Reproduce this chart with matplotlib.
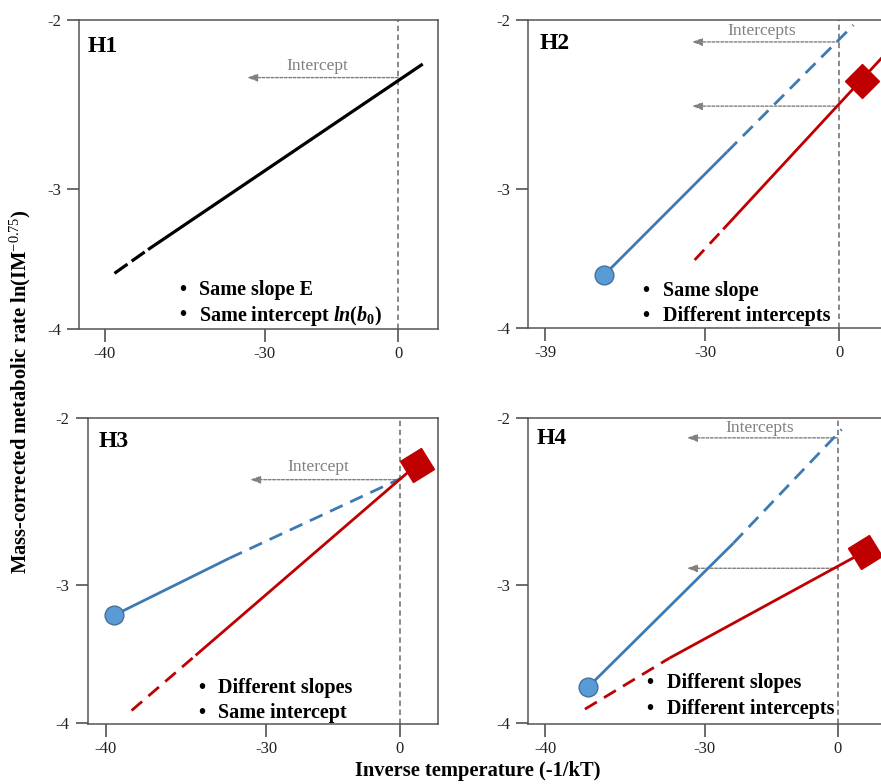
import numpy as np
import matplotlib.pyplot as plt
from matplotlib.markers import MarkerStyle
from matplotlib.transforms import Affine2D

plt.rcParams['font.family'] = ['Liberation Serif', 'DejaVu Serif']
plt.rcParams['mathtext.fontset'] = 'custom'
plt.rcParams['mathtext.rm'] = 'Liberation Serif'
plt.rcParams['mathtext.it'] = 'Liberation Serif:italic:bold'
plt.rcParams['mathtext.bf'] = 'Liberation Serif:bold'

# ---- data ----
y_ticks = [-4, -3, -2]
h1_x_ticks = [-40, -30, 0]
h2_x_ticks = [-39, -30, 0]
h3_x_ticks = [-40, -30, 0]
h4_x_ticks = [-40, -30, 0]

h1_line_x = [-39.4, -37.3, 5.5]
h1_line_y = [-3.60, -3.43, -2.26]
h1_intercepts = [-2.34]

h2_blue_x = [-35.7, -25.1, 3.2]
h2_blue_y = [-3.62, -2.78, -2.03]
h2_red_x = [-30.6, -26.0, 12.5]
h2_red_y = [-3.51, -3.29, -2.14]
h2_red_point = [5.1, -2.36]
h2_intercepts = [-2.13, -2.51]

h3_blue_x = [-39.5, -32.3, 0.4]
h3_blue_y = [-3.22, -2.84, -2.36]
h3_red_x = [-38.4, -34.4, 3.8]
h3_red_y = [-3.91, -3.51, -2.28]
h3_intercepts = [-2.37]

h4_blue_x = [-37.3, -23.5, 0.9]
h4_blue_y = [-3.74, -2.75, -2.07]
h4_red_x = [-37.5, -32.2, 6.1]
h4_red_y = [-3.90, -3.53, -2.80]
h4_intercepts = [-2.12, -2.90]

arrow_tips = [-31.1, -30.75, -31.0, -31.1]

h1_notes = ['Same slope E', r'Same intercept $ln\mathbf{(}b_{\mathbf{0}}\mathbf{)}$']
h2_notes = ['Same slope', 'Different intercepts']
h3_notes = ['Different slopes', 'Same intercept']
h4_notes = ['Different slopes', 'Different intercepts']

BLUE = '#3d7ab3'
BLUE_FILL = '#5b9bd5'
BLUE_EDGE = '#41719c'
RED = '#c00000'
GRAY = '#808080'
DASH = (0, (5, 3))


def piecewise(vals, gaps):
    # broken axis: equal tick spacing is not equal value spacing
    vals = np.asarray(vals, float)
    pos = np.concatenate([[0], np.cumsum(gaps)])
    s_lo = (pos[1] - pos[0]) / (vals[1] - vals[0])
    s_hi = (pos[-1] - pos[-2]) / (vals[-1] - vals[-2])

    def fwd(v):
        v = np.asarray(v, float)
        p = np.interp(v, vals, pos)
        p = np.where(v < vals[0], pos[0] + (v - vals[0]) * s_lo, p)
        return np.where(v > vals[-1], pos[-1] + (v - vals[-1]) * s_hi, p)

    def inv(p):
        p = np.asarray(p, float)
        v = np.interp(p, pos, vals)
        v = np.where(p < pos[0], vals[0] + (p - pos[0]) / s_lo, v)
        return np.where(p > pos[-1], vals[-1] + (p - pos[-1]) / s_hi, v)

    return fwd, inv


def series(ax, xs, ys, color, lw, dashed_first, dash=DASH):
    styles = [dash, '-'] if dashed_first else ['-', dash]
    for i in range(2):
        ax.plot(xs[i:i + 2], ys[i:i + 2], color=color, lw=lw, ls=styles[i],
                solid_capstyle='butt', dash_capstyle='butt', zorder=3)


def setup(rect, xticks, xlim, ylim):
    ax = fig.add_axes(rect)
    ax.set_xscale('function', functions=piecewise(xticks, [1, 0.835]))
    ax.set_yscale('function', functions=piecewise(y_ticks, [0.825, 1]))
    ax.set_xlim(*xlim)
    ax.set_ylim(*ylim)
    ax.set_xticks(xticks, [str(t) for t in xticks])
    ax.set_yticks(y_ticks, [str(t) for t in y_ticks])
    ax.tick_params(direction='out', length=9, width=1.1, color='#444444',
                   labelsize=12, labelcolor='#222222')
    ax.tick_params(axis='x', pad=3)
    ax.tick_params(axis='y', pad=4)
    for s in ax.spines.values():
        s.set_color('#555555')
        s.set_linewidth(1.1)
    ax.axvline(0, color=GRAY, lw=1.3, ls=(0, (3, 2)), zorder=2)
    return ax


def intercepts(ax, ys, tip, label, pos):
    for y in ys:
        ax.annotate('', xy=(tip, y), xytext=(0, y),
                    arrowprops=dict(arrowstyle='-|>,head_length=0.6,head_width=0.22',
                                    color=GRAY, lw=1.0, ls=(0, (2, 1.2)),
                                    shrinkA=0, shrinkB=0), zorder=2)
    ax.text(pos[0], pos[1], label, transform=ax.transAxes, ha='center',
            va='center', fontsize=12.5, color=GRAY)


def notes(ax, lines, bx, tx, ys):
    for line, y in zip(lines, ys):
        ax.text(bx, y, '\u2022', transform=ax.transAxes, ha='center',
                va='center_baseline', fontsize=14.5, fontweight='bold')
        ax.text(tx, y, line, transform=ax.transAxes, ha='left',
                va='center_baseline', fontsize=14.5, fontweight='bold')


def tag(ax, name, pos):
    ax.text(pos[0], pos[1], name, transform=ax.transAxes, ha='left',
            va='center', fontsize=17, fontweight='bold')


def red_marker(ax, x, y, angle):
    m = MarkerStyle('s', transform=Affine2D().rotate_deg(angle))
    ax.plot([x], [y], ls='none', marker=m, ms=17.5, color=RED, mec=RED, zorder=5)


def blue_marker(ax, x, y):
    ax.plot([x], [y], ls='none', marker='o', ms=13.5, mfc=BLUE_FILL,
            mec=BLUE_EDGE, mew=1, zorder=5)


fig = plt.figure(figsize=(8.81, 7.84), dpi=100)

# H1
ax = setup([0.0900, 0.5800, 0.4075, 0.3945], h1_x_ticks, (-41.6, 9.0), (-4.0, -2.0))
series(ax, h1_line_x, h1_line_y, 'black', 2.3, True, dash=(0, (5, 1.6)))
intercepts(ax, h1_intercepts, arrow_tips[0], 'Intercept', (0.662, 0.852))
notes(ax, h1_notes, 0.289, 0.333, [0.1335, 0.0527])
tag(ax, 'H1', (0.022, 0.913))

# H2
ax = setup([0.5997, 0.5813, 0.4075, 0.3932], h2_x_ticks, (-39.94, 10.8), (-4.0, -2.0))
series(ax, h2_blue_x, h2_blue_y, BLUE, 2.0, False)
series(ax, h2_red_x, h2_red_y, RED, 2.0, True)
blue_marker(ax, h2_blue_x[0], h2_blue_y[0])
red_marker(ax, h2_red_point[0], h2_red_point[1], 45)
intercepts(ax, h2_intercepts, arrow_tips[1], 'Intercepts', (0.650, 0.965))
notes(ax, h2_notes, 0.327, 0.374, [0.130, 0.0486])
tag(ax, 'H2', (0.0326, 0.925))

# H3
ax = setup([0.0995, 0.0761, 0.3980, 0.3910], h3_x_ticks, (-41.14, 8.6), (-4.01, -2.0))
series(ax, h3_blue_x, h3_blue_y, BLUE, 2.0, False)
series(ax, h3_red_x, h3_red_y, RED, 2.0, True)
blue_marker(ax, h3_blue_x[0], h3_blue_y[0])
red_marker(ax, h3_red_x[-1], h3_red_y[-1], 30)
intercepts(ax, h3_intercepts, arrow_tips[2], 'Intercept', (0.657, 0.838))
notes(ax, h3_notes, 0.325, 0.3725, [0.128, 0.0466])
tag(ax, 'H3', (0.030, 0.922))

# H4
ax = setup([0.5997, 0.0761, 0.4075, 0.3910], h4_x_ticks, (-41.05, 11.2), (-4.01, -2.0))
series(ax, h4_blue_x, h4_blue_y, BLUE, 2.0, False)
series(ax, h4_red_x, h4_red_y, RED, 2.0, True)
blue_marker(ax, h4_blue_x[0], h4_blue_y[0])
red_marker(ax, h4_red_x[-1], h4_red_y[-1], 33)
intercepts(ax, h4_intercepts, arrow_tips[3], 'Intercepts', (0.645, 0.968))
notes(ax, h4_notes, 0.339, 0.3855, [0.1415, 0.0574])
tag(ax, 'H4', (0.0234, 0.933))

fig.text(20 / 881, 1 - 392 / 784, r'Mass-corrected metabolic rate ln(IM$^{-0.75}$)',
         rotation=90, ha='center', va='center', fontsize=14.8, fontweight='bold')
fig.text(478 / 881, 1 - 771 / 784, 'Inverse temperature (-1/kT)',
         ha='center', va='center', fontsize=14.8, fontweight='bold')

fig.savefig('out.png', dpi=100)
